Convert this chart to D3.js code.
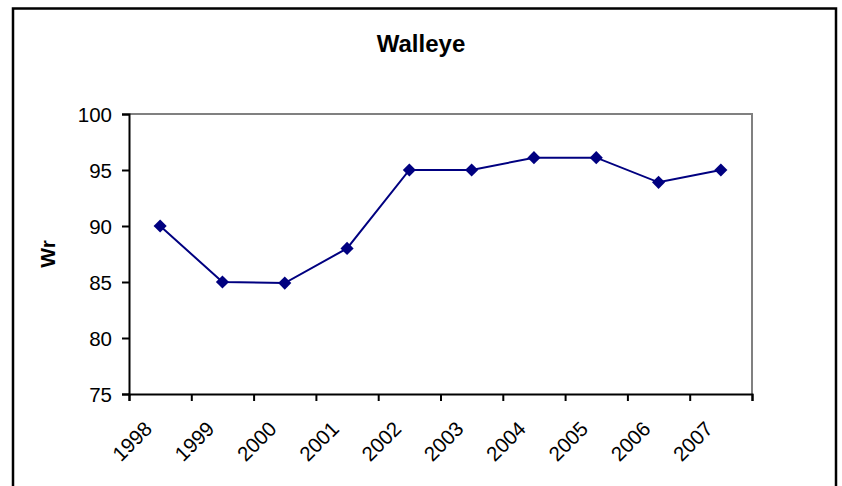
<!DOCTYPE html>
<html>
<head>
<meta charset="utf-8">
<script src="https://cdn.jsdelivr.net/npm/d3@7"></script>
<style>
  body { margin: 0; background: #fff; }
  text { font-family: "Liberation Sans", Arial, sans-serif; }
</style>
</head>
<body>
<svg id="chart" width="842" height="486"></svg>
<script>
const years = ["1998", "1999", "2000", "2001", "2002", "2003", "2004", "2005", "2006", "2007"];
const wr = [90, 85, 84.9, 88, 95, 95, 96.1, 96.1, 93.9, 95];
const yTicks = [75, 80, 85, 90, 95, 100];

const svg = d3.select("#chart");
const margin = {left: 129, top: 114, right: 752, bottom: 394};

svg.append("rect").attr("width", 842).attr("height", 486).attr("fill", "#fff");

// outer frame (bottom edge is cut off in the picture)
svg.append("rect")
    .attr("x", 13).attr("y", 8.5)
    .attr("width", 823).attr("height", 500)
    .attr("fill", "none").attr("stroke", "#000").attr("stroke-width", 2.5);

const x = d3.scaleBand().domain(years).range([margin.left, margin.right]).padding(0);
const xEdge = d3.scaleLinear().domain([0, years.length]).range([margin.left, margin.right]);
const y = d3.scaleLinear().domain([75, 100]).range([margin.bottom, margin.top]);

// plot area border, gray on top and right
svg.append("path")
    .attr("d", `M${margin.left},${margin.top}H${margin.right}V${margin.bottom}`)
    .attr("fill", "none").attr("stroke", "#808080").attr("stroke-width", 2);

svg.append("text")
    .attr("x", 421).attr("y", 52)
    .attr("text-anchor", "middle")
    .attr("font-size", 24).attr("font-weight", "bold")
    .text("Walleye");

const yAxis = svg.append("g")
    .attr("transform", `translate(${margin.left},0)`)
    .call(d3.axisLeft(y).tickValues(yTicks).tickSize(7).tickPadding(10));
yAxis.selectAll("text").attr("font-size", 20.5).attr("font-family", null).attr("fill", "#000").attr("dy", "0.36em");

const xAxis = svg.append("g")
    .attr("transform", `translate(0,${margin.bottom})`)
    .call(d3.axisBottom(xEdge).tickValues(d3.range(years.length + 1)).tickSize(7).tickFormat(""));

[yAxis, xAxis].forEach(g => {
    g.select(".domain").attr("stroke", "#000").attr("stroke-width", 2);
    g.selectAll(".tick line").attr("stroke", "#000").attr("stroke-width", 2);
});

svg.append("g").selectAll("text")
    .data(years)
    .join("text")
    .attr("transform", d => `translate(${x(d) + x.bandwidth() / 2 - 17},${margin.bottom + 26}) rotate(-45)`)
    .attr("text-anchor", "end")
    .attr("dy", "0.7em")
    .attr("font-size", 20.5)
    .text(d => d);

svg.append("text")
    .attr("transform", "translate(55,254) rotate(-90)")
    .attr("text-anchor", "middle")
    .attr("font-size", 21).attr("font-weight", "bold")
    .text("Wr");

const line = d3.line()
    .x((d, i) => x(years[i]) + x.bandwidth() / 2)
    .y(d => y(d));

svg.append("path")
    .datum(wr)
    .attr("d", line)
    .attr("fill", "none").attr("stroke", "#000080").attr("stroke-width", 2);

svg.append("g").selectAll("path")
    .data(wr)
    .join("path")
    .attr("transform", (d, i) => `translate(${x(years[i]) + x.bandwidth() / 2},${y(d)})`)
    .attr("d", d3.symbol(d3.symbolDiamond2, 110))
    .attr("fill", "#000080");
</script>
</body>
</html>
